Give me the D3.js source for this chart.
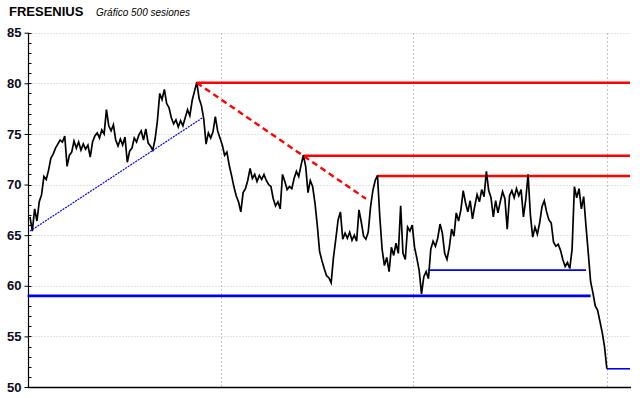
<!DOCTYPE html>
<html><head><meta charset="utf-8">
<script src="https://cdn.jsdelivr.net/npm/d3@7"></script>
<style>body{margin:0;background:#fff;}svg{display:block;}</style>
</head><body>
<script>
// ---- data ----
const title = "FRESENIUS";
const subtitle = "Gráfico 500 sesiones";
const yTicks = [50, 55, 60, 65, 70, 75, 80, 85];
const sessionStep = 2;
const prices = [
66.8,65.4,67.6,66.4,68.3,69.0,70.8,70.5,71.4,72.6,73.0,73.6,74.0,74.4,74.2,74.8,71.8,72.9,73.2,74.3,
73.6,74.2,73.4,74.0,73.5,73.9,72.7,74.2,74.8,75.1,74.6,75.4,75.0,77.4,75.8,75.3,75.9,74.4,73.8,74.5,
73.9,74.7,72.2,73.3,73.6,74.6,74.2,74.9,75.3,74.4,75.5,74.1,73.8,73.4,74.5,76.3,79.0,78.4,79.4,78.0,
77.6,76.6,76.0,76.4,75.7,76.3,75.8,76.6,77.4,76.8,78.3,79.2,80.1,78.5,77.8,76.5,74.0,75.1,74.6,75.2,
76.7,75.3,74.6,73.9,72.9,73.2,71.9,70.9,69.8,68.9,68.3,67.3,69.2,69.6,70.4,71.6,70.6,71.0,70.3,70.9,
70.5,71.0,70.4,70.0,69.8,68.6,67.9,68.3,67.6,71.0,70.3,69.5,69.8,69.6,70.6,71.3,70.8,71.9,72.9,71.8,
69.2,70.4,69.8,68.2,66.0,63.4,62.5,61.7,61.0,60.8,60.3,62.8,64.6,66.5,67.3,64.6,65.2,64.7,65.3,64.5,
65.0,64.4,67.5,66.3,64.9,64.6,65.3,67.8,69.4,70.4,70.9,66.8,63.6,62.0,62.8,61.4,63.8,63.0,64.2,63.2,
67.9,63.2,62.6,65.8,65.4,66.0,63.8,62.7,61.5,59.2,60.9,61.4,60.7,63.6,64.4,63.9,64.7,66.1,65.2,63.2,
62.6,63.8,65.6,64.9,67.2,66.4,67.5,69.4,68.2,67.3,68.4,66.6,67.9,69.0,68.3,69.5,68.8,71.3,69.4,68.7,
66.8,68.4,67.2,68.3,69.3,68.6,65.6,68.9,69.4,68.7,69.6,68.9,69.5,66.8,68.5,71.0,67.0,64.8,65.8,65.1,
66.2,67.8,68.4,67.3,66.5,66.2,64.3,63.9,64.1,63.5,62.6,61.9,62.3,61.7,63.6,69.8,68.7,69.6,67.6,68.8,
65.9,63.2,60.4,59.3,58.0,57.6,56.5,55.4,54.0,51.8
];
const periodMarks = [165, 331, 498];           // vertical dotted grid (sessions)
const trendLines = [
  {name:"soporte", from:[0, 65.4], to:[149, 76.6], kind:"blueDot"},
  {name:"bajista", from:[144, 80.05], to:[290, 68.6], kind:"redDash"}
];
const resistances = [ {from:144, value:80.05}, {from:236, value:72.85}, {from:300, value:70.85} ];
const supports = [
  {from:-2, to:484, value:59.0, heavy:true},
  {from:343.5, to:480, value:61.55, heavy:false},
  {from:498, to:518, value:51.8, heavy:false}
];

// ---- chart ----
const W = 640, H = 398;
const svg = d3.select("body").append("svg").attr("width", W).attr("height", H);
const x = d3.scaleLinear().domain([0, 518]).range([30, 630]);
const y = d3.scaleLinear().domain([50, 85]).range([387, 32.7]);
const axisX = 28.5;

svg.append("text").attr("x", 9).attr("y", 16).text(title)
  .attr("font-family", "Liberation Sans, Arial, sans-serif").attr("font-weight", "bold")
  .attr("font-size", 13).attr("fill", "#000");
svg.append("text").attr("x", 96).attr("y", 16).text(subtitle)
  .attr("font-family", "Liberation Sans, Arial, sans-serif").attr("font-style", "italic")
  .attr("font-size", 10).attr("fill", "#000");

svg.append("g").selectAll("line").data(yTicks.filter(d => d > 50)).join("line")
  .attr("x1", axisX + 1).attr("x2", 630)
  .attr("y1", d => Math.round(y(d)) + 0.5).attr("y2", d => Math.round(y(d)) + 0.5)
  .attr("stroke", "#c4c4c4").attr("stroke-width", 1).attr("stroke-dasharray", "1,2");
svg.append("g").selectAll("line").data(periodMarks).join("line")
  .attr("x1", d => Math.round(x(d)) + 0.5).attr("x2", d => Math.round(x(d)) + 0.5)
  .attr("y1", 33).attr("y2", 387)
  .attr("stroke", "#c4c4c4").attr("stroke-width", 1).attr("stroke-dasharray", "2,2");

const yAxisG = svg.append("g").attr("transform", `translate(${axisX},0)`);
yAxisG.call(d3.axisLeft(y).tickValues(yTicks).tickSize(4).tickPadding(3).tickFormat(d3.format("d")));
yAxisG.select(".domain").remove();
yAxisG.selectAll("text").attr("font-family", "Liberation Sans, Arial, sans-serif")
  .attr("font-weight", "bold").attr("font-size", 13).attr("fill", "#0a0a1e");
yAxisG.selectAll("line").attr("stroke", "#000");
const minor = d3.range(50, 86, 1);
yAxisG.append("g").selectAll("line").data(minor).join("line")
  .attr("x1", 0).attr("x2", 3)
  .attr("y1", d => Math.round(y(d)) + 0.5).attr("y2", d => Math.round(y(d)) + 0.5)
  .attr("stroke", "#000");
yAxisG.append("line").attr("x1", 0).attr("x2", 0).attr("y1", y(85)).attr("y2", 388)
  .attr("stroke", "#000").attr("stroke-width", 1.2);
svg.append("line").attr("x1", axisX).attr("x2", 631).attr("y1", 387.5).attr("y2", 387.5)
  .attr("stroke", "#000").attr("stroke-width", 1.6);

svg.append("g").selectAll("line").data(supports).join("line")
  .attr("x1", d => x(d.from)).attr("x2", d => x(d.to))
  .attr("y1", d => y(d.value)).attr("y2", d => y(d.value))
  .attr("stroke", "#0000f0").attr("stroke-width", d => d.heavy ? 2.6 : 1.6);
svg.append("g").selectAll("line").data(resistances).join("line")
  .attr("x1", d => x(d.from)).attr("x2", 630)
  .attr("y1", d => y(d.value)).attr("y2", d => y(d.value))
  .attr("stroke", "#ff0000").attr("stroke-width", 2.6);

const line = d3.line().x((d, i) => x(i * sessionStep)).y(d => y(d));
svg.append("path").datum(prices).attr("d", line)
  .attr("fill", "none").attr("stroke", "#000").attr("stroke-width", 1.7)
  .attr("stroke-linejoin", "miter");

svg.append("g").selectAll("line").data(trendLines).join("line")
  .attr("x1", d => x(d.from[0])).attr("y1", d => y(d.from[1]))
  .attr("x2", d => x(d.to[0])).attr("y2", d => y(d.to[1]))
  .attr("stroke", d => d.kind === "blueDot" ? "#0000ff" : "#ff0000")
  .attr("stroke-width", d => d.kind === "blueDot" ? 1.2 : 2.4)
  .attr("stroke-dasharray", d => d.kind === "blueDot" ? "2,1" : "6,4");
</script>
</body></html>
